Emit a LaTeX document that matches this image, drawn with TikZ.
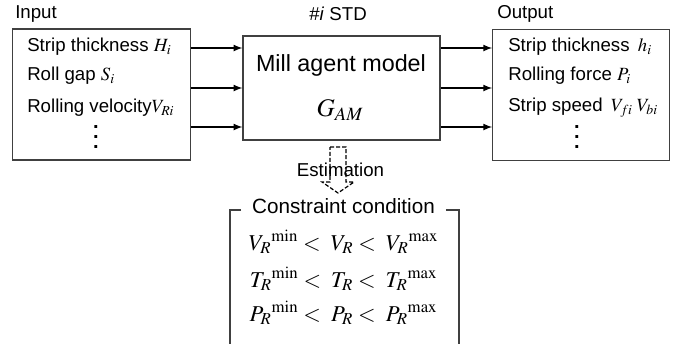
\documentclass[tikz,border=0pt]{standalone}
\usepackage{mathptmx}
\usepackage[no-math]{fontspec}
\setmainfont{Liberation Sans}
\newcommand{\coldots}{\vbox{\baselineskip=7.6pt\lineskiplimit=-20pt
   \hbox{.}\hbox{.}\hbox{.}}}
\begin{document}
\begin{tikzpicture}[x=0.75pt,y=-0.75pt,
    block/.style={draw=black!75, line width=0.8pt},
    txt/.style={anchor=west, inner sep=0pt, font=\fontsize{14}{16}\selectfont},
    flow/.style={->, >=latex, line width=1.3pt},
    vdot/.style={inner sep=0pt, font=\bfseries\fontsize{15}{15}\selectfont},
    eq/.style={anchor=base, inner sep=0pt, font=\fontsize{17}{20}\selectfont}]
\useasboundingbox (0,0) rectangle (680,344);
   \node[block, minimum width=133.5pt, minimum height=98.25pt] (in) at (101.25,94.5) {};
   \node[block, minimum width=147.75pt, minimum height=78pt] (mill) at (341.5,88) {};
   \node[block, minimum width=132.75pt, minimum height=98.25pt] (out) at (581.25,95.25) {};
   \node[txt] (inlbl) at (15,14) {Input};
   \node[txt] (outlbl) at (497,14) {Output};
   \node[txt, anchor=center] (std) at (338,14) {\#\textit{i} STD};
   \node[txt] (H) at (27,47) {Strip thickness $H_i$};
   \node[txt] (S) at (27,76) {Roll gap $S_i$};
   \node[txt] (VR) at (27,108) {Rolling velocity$V_{Ri}$};
   \node[vdot] (indots) at (96,137) {\coldots};
   \node[txt] (h) at (508,47) {Strip thickness\, $h_i$};
   \node[txt] (P) at (508,76) {Rolling force $P_i$};
   \node[txt] (Vf) at (508,108) {Strip speed\, $V_{fi}\; V_{bi}$};
   \node[vdot] (outdots) at (577,137) {\coldots};
   \node[inner sep=0pt, font=\fontsize{17.5}{20}\selectfont] (mam) at (341,65) {Mill agent model};
   \node[inner sep=0pt, font=\fontsize{19}{20}\selectfont] (gam) at (340,110) {$G_{AM}$};
   \foreach \y in {48,88,127} {
      \draw[flow] (in.east |- 0,\y) -- (mill.west |- 0,\y);
      \draw[flow] (mill.east |- 0,\y) -- (out.west |- 0,\y);
   }
   \draw[dash pattern=on 3pt off 1.5pt, line width=0.9pt] (330,147) -- (346,147) -- (346,182) -- (354,182)
      -- (338,193) -- (322,182) -- (330,182) -- cycle;
   \node[txt, anchor=center] (est) at (340.5,170) {Estimation};
   \node[inner sep=0pt, font=\fontsize{15.5}{18}\selectfont] (cc) at (343.5,206) {Constraint condition};
   \draw[block] ([xshift=-8]cc.west |- 0,210) -- (230,210) -- (230,344);
   \draw[block] ([xshift=8]cc.east |- 0,210) -- (459,210) -- (459,344);
   \node[eq] (c1) at (343.5,250) {${V_R}^{\mathrm{min}} <\; V_R <\; {V_R}^{\mathrm{max}}$};
   \node[eq] (c2) at (343.5,287) {${T_R}^{\mathrm{min}} <\; T_R <\; {T_R}^{\mathrm{max}}$};
   \node[eq] (c3) at (343.5,321) {${P_R}^{\mathrm{min}} <\; P_R <\; {P_R}^{\mathrm{max}}$};
\end{tikzpicture}
\end{document}
